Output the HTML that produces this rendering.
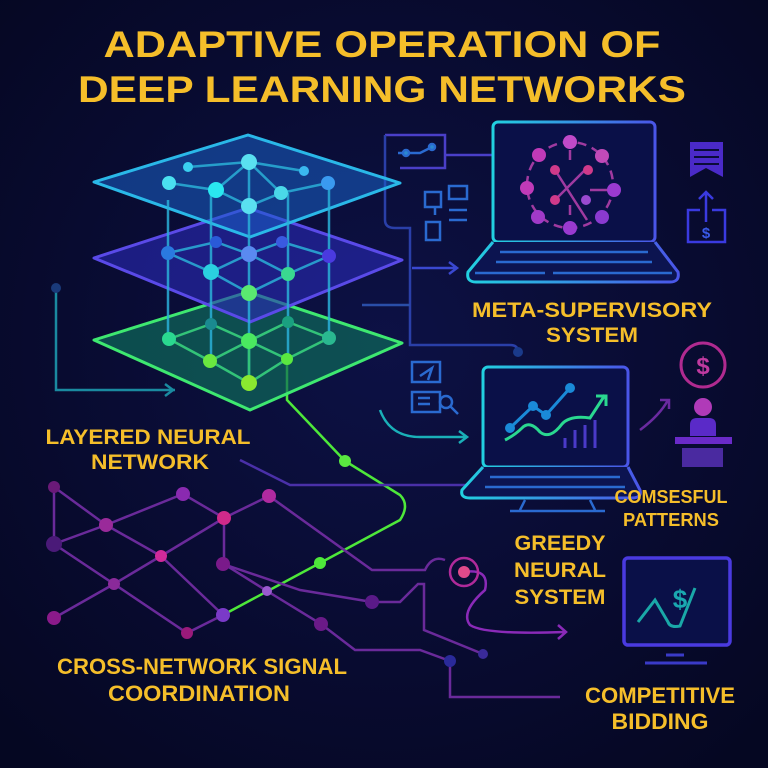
<!DOCTYPE html>
<html><head><meta charset="utf-8"><style>
html,body{margin:0;padding:0;background:#070a2a}
svg{display:block}
text{font-family:"Liberation Sans",sans-serif;font-weight:bold;fill:#f5be2a}
</style></head><body>
<svg width="768" height="768" viewBox="0 0 768 768" xmlns="http://www.w3.org/2000/svg">
<defs>
<radialGradient id="bg" cx="50%" cy="45%" r="70%"><stop offset="0" stop-color="#0d1145"/><stop offset="1" stop-color="#050722"/></radialGradient>
<linearGradient id="g1" x1="0" y1="0" x2="1" y2="1"><stop offset="0" stop-color="#1fa0d8"/><stop offset="1" stop-color="#3b55e0"/></linearGradient>
<linearGradient id="lp" x1="0" y1="0" x2="1" y2="0"><stop offset="0" stop-color="#22d0e0"/><stop offset="1" stop-color="#4a55e8"/></linearGradient>
</defs>
<rect width="768" height="768" fill="url(#bg)"/>
<text x="382" y="57" font-size="37" text-anchor="middle" textLength="557" lengthAdjust="spacingAndGlyphs">ADAPTIVE OPERATION OF</text>
<text x="382" y="102" font-size="37" text-anchor="middle" textLength="608" lengthAdjust="spacingAndGlyphs">DEEP LEARNING NETWORKS</text>

<!-- connectors left -->
<g fill="none" stroke-width="2.5">
<path d="M56 288 V390 H175" stroke="#1a8aa0"/>
<path d="M165 384 l8 6 l-8 6" stroke="#1a8aa0"/>
<path d="M287 357 V400 L345 461 L400 495 Q410 505 400 520 L320 563 L223 615" stroke="#4ee83a"/>
<path d="M385 135 H445 V168 H400 M445 155 H493" stroke="#4a3fc8"/>
<path d="M385 135 V220 Q385 228 395 228 H410 V345 H510 Q518 345 518 352" stroke="#2a3fa8"/>
<path d="M412 268 H455 M449 262 l8 6 l-8 6" stroke="#3a48d0"/>
<path d="M362 305 H410" stroke="#2a4ea8"/>
<path d="M380 410 Q390 437 420 437 H465 M459 431 l8 6 l-8 6" stroke="#1ab0b8"/>
<path d="M240 460 L290 485 H470" stroke="#4a30a8"/>
<path d="M640 430 Q660 415 668 400 M660 400 h9 v9" stroke="#6a2aa0"/>
</g>
<circle cx="518" cy="352" r="5" fill="#1a3a8a"/>
<circle cx="56" cy="288" r="5" fill="#1a3a7a"/>

<!-- bottom network -->
<g fill="none" stroke="#6a2a9a" stroke-width="2.5">
<path d="M54 487 L106 525 L183 494 L224 518 L269 496 L372 570 H425 Q432 555 445 560"/>
<path d="M54 487 V544 L106 525 M54 544 L114 584 L161 556 L106 525 M161 556 L224 518 V564 L267 591 L321 624 L355 650 H420 L450 661 V697 H560"/>
<path d="M161 556 L223 615 M54 618 L114 584 L187 633 L223 615 M223 564 L300 590 L372 602 H400 L418 584 H424 V630 L483 654"/>
<path d="M464 572 Q490 568 485 590 Q460 612 470 625 Q485 635 565 632 M558 625 l8 7 l-8 7" stroke="#8a2ab8"/>
<circle cx="464" cy="572" r="14" stroke="#b02a9a"/>
</g>
<g>
<circle cx="54" cy="487" r="6" fill="#6a1a78"/><circle cx="183" cy="494" r="7" fill="#8a2ab0"/><circle cx="269" cy="496" r="7" fill="#b02aa0"/>
<circle cx="106" cy="525" r="7" fill="#9a2a9a"/><circle cx="224" cy="518" r="7" fill="#d02a8a"/><circle cx="54" cy="544" r="8" fill="#4a1a78"/>
<circle cx="161" cy="556" r="6" fill="#d02a9a"/><circle cx="223" cy="564" r="7" fill="#7a1a8a"/><circle cx="114" cy="584" r="6" fill="#8a2a9a"/>
<circle cx="267" cy="591" r="5" fill="#9a5ad0"/><circle cx="320" cy="563" r="6" fill="#4ee83a"/><circle cx="345" cy="461" r="6" fill="#5ae840"/>
<circle cx="54" cy="618" r="7" fill="#8a1a8a"/><circle cx="187" cy="633" r="6" fill="#9a1a7a"/><circle cx="223" cy="615" r="7" fill="#7a3ac8"/>
<circle cx="321" cy="624" r="7" fill="#6a1a88"/><circle cx="372" cy="602" r="7" fill="#5a1a88"/><circle cx="464" cy="572" r="6" fill="#e04a8a"/>
<circle cx="450" cy="661" r="6" fill="#2a2a9a"/><circle cx="483" cy="654" r="5" fill="#3a2a9a"/>
</g>

<!-- layered network -->
<g stroke-width="3" stroke-linejoin="round">
<path d="M94 340 L248 292 L402 343 L250 410 Z" fill="#0e6a5a" fill-opacity="0.7" stroke="#3ee870"/>
<path d="M94 258 L248 208 L402 260 L250 322 Z" fill="#2a2ab8" fill-opacity="0.6" stroke="#5a4ae8"/>
<path d="M94 182 L248 135 L400 183 L250 237 Z" fill="#1a60c8" fill-opacity="0.55" stroke="#2ab8e8"/>
</g>
<g stroke="#2ab0d8" stroke-width="2.5" fill="none" opacity="0.85">
<path d="M168 200 V339 M211 190 V361 M249 206 V383 M288 193 V359 M329 183 V338"/>
<path d="M188 167 L249 162 L304 171 M169 183 L216 190 L249 162 L281 193 L328 183 M216 190 L249 206 L281 193 M249 162 V206"/>
<path d="M168 253 L216 242 L249 254 L282 242 L329 256 L288 274 L249 293 L211 272 L168 253 M211 272 L249 254 L288 274"/>
<path d="M169 339 L211 324 L249 341 L288 322 L329 338 L287 359 L249 383 L210 361 L169 339 M210 361 L249 341 L287 359 M249 341 V383" stroke="#3ad880"/>
</g>
<g>
<circle cx="188" cy="167" r="5" fill="#3ad0f0"/><circle cx="249" cy="162" r="8" fill="#5ae0f0"/><circle cx="304" cy="171" r="5" fill="#3ab8f0"/>
<circle cx="169" cy="183" r="7" fill="#4ae0f0"/><circle cx="216" cy="190" r="8" fill="#2ae8f0"/><circle cx="281" cy="193" r="7" fill="#4ad8e8"/>
<circle cx="328" cy="183" r="7" fill="#3a9af0"/><circle cx="249" cy="206" r="8" fill="#5ae0f0"/>
<circle cx="168" cy="253" r="7" fill="#2a7ae0"/><circle cx="216" cy="242" r="6" fill="#2a5ad8"/><circle cx="249" cy="254" r="8" fill="#5a8af0"/>
<circle cx="282" cy="242" r="6" fill="#3a5ae0"/><circle cx="329" cy="256" r="7" fill="#4a3ae0"/><circle cx="211" cy="272" r="8" fill="#2ad0e0"/>
<circle cx="288" cy="274" r="7" fill="#3ad890"/><circle cx="249" cy="293" r="8" fill="#5ae870"/>
<circle cx="169" cy="339" r="7" fill="#2ad890"/><circle cx="211" cy="324" r="6" fill="#1a8a90"/><circle cx="249" cy="341" r="8" fill="#4ae860"/>
<circle cx="288" cy="322" r="6" fill="#1aa080"/><circle cx="329" cy="338" r="7" fill="#2ab890"/><circle cx="210" cy="361" r="7" fill="#6ae840"/>
<circle cx="287" cy="359" r="6" fill="#5ae840"/><circle cx="249" cy="383" r="8" fill="#8ae830"/>
</g>

<!-- flow icons -->
<g fill="none" stroke="#2a6ad0" stroke-width="2.5">
<path d="M398 153 H420 L432 147"/><circle cx="406" cy="153" r="3" fill="#2a8ad0"/><circle cx="432" cy="147" r="3" fill="#2a8ad0"/>
<rect x="425" y="192" width="16" height="15"/><rect x="449" y="186" width="18" height="13"/><path d="M449 210 H467 M449 220 H467 M435 207 V215 M430 222 H440 V240 H426 V222 Z"/>
<rect x="412" y="362" width="28" height="20"/><path d="M420 376 L432 368 L428 380 M412 392 H440 V412 H412 Z M418 398 H430 M418 404 H430"/><circle cx="446" cy="402" r="6"/><path d="M450 406 L458 414"/>
</g>

<!-- laptop 1 -->
<rect x="493" y="122" width="162" height="120" rx="5" fill="#0a1048" stroke="url(#lp)" stroke-width="3"/>
<path d="M493 242 L468 272 Q466 282 476 282 H670 Q680 282 678 272 L655 242" fill="#0c1450" stroke="url(#lp)" stroke-width="3"/>
<path d="M500 252 H648 M496 262 H652 M475 273 H545 M553 273 H672" stroke="#2a6ad0" stroke-width="2.5"/>
<g fill="none" stroke="#a03aa0" stroke-width="2.5">
<circle cx="570" cy="185" r="43" stroke-dasharray="9 6"/>
<path d="M555 170 L587 220 M585 170 L555 200 M590 190 L615 190 M570 215 V205 M570 150 V160"/>
</g>
<g>
<circle cx="570" cy="142" r="7" fill="#c04ac8"/><circle cx="539" cy="155" r="7" fill="#c03ab8"/><circle cx="602" cy="156" r="7" fill="#c04ab8"/>
<circle cx="527" cy="188" r="7" fill="#c03ab8"/><circle cx="614" cy="190" r="7" fill="#9a3ad0"/><circle cx="538" cy="217" r="7" fill="#a03ac8"/>
<circle cx="602" cy="217" r="7" fill="#8a3ad0"/><circle cx="570" cy="228" r="7" fill="#9a3ad0"/><circle cx="555" cy="170" r="5" fill="#d03a8a"/>
<circle cx="588" cy="170" r="5" fill="#d03a8a"/><circle cx="555" cy="200" r="5" fill="#d03a8a"/><circle cx="586" cy="200" r="5" fill="#9a4ad0"/>
</g>
<path d="M690 142 H723 V177 L706 168 L690 177 Z" fill="#4a2ac8"/><path d="M694 150 H719 M694 157 H719 M694 164 H719" stroke="#0a0c38" stroke-width="2"/>
<g fill="none" stroke="#3a3ae0" stroke-width="2.5"><path d="M700 210 H688 V242 H725 V210 H712 M706 222 V192 M699 199 L706 192 L713 199"/></g>
<text x="706" y="238" font-size="15" text-anchor="middle" style="fill:#3a5ae8">$</text>

<text x="592" y="317" font-size="21" text-anchor="middle" textLength="240" lengthAdjust="spacingAndGlyphs">META-SUPERVISORY</text>
<text x="592" y="342" font-size="21" text-anchor="middle" textLength="92" lengthAdjust="spacingAndGlyphs">SYSTEM</text>

<!-- laptop 2 -->
<rect x="483" y="367" width="145" height="100" rx="5" fill="#0a1048" stroke="url(#lp)" stroke-width="3"/>
<path d="M483 467 L462 490 Q460 498 470 498 H632 Q642 498 640 490 L628 467" fill="#0c1450" stroke="url(#lp)" stroke-width="3"/>
<path d="M490 477 H620 M485 487 H625 M525 500 L520 510 M590 500 L595 510 M510 511 H605" stroke="#2a6ad0" stroke-width="2.5"/>
<path d="M510 428 L533 406 L546 415 L570 388" fill="none" stroke="#1a8ad8" stroke-width="3"/>
<circle cx="510" cy="428" r="5" fill="#1a8ad8"/><circle cx="533" cy="406" r="5" fill="#1a8ad8"/><circle cx="546" cy="415" r="5" fill="#1a8ad8"/><circle cx="570" cy="388" r="5" fill="#1a8ad8"/>
<path d="M505 440 Q515 435 522 428 Q530 420 540 432 Q550 440 562 424 Q570 415 590 418 L605 395 M596 396 h10 v10" fill="none" stroke="#2ad890" stroke-width="3"/>
<path d="M565 448 V438 M575 448 V430 M585 448 V425 M595 448 V420" stroke="#4a3ac8" stroke-width="3"/>

<circle cx="703" cy="365" r="22" fill="none" stroke="#b02a90" stroke-width="3"/>
<text x="703" y="374" font-size="24" text-anchor="middle" style="fill:#c03aa0">$</text>
<circle cx="703" cy="407" r="9" fill="#b03ab8"/>
<path d="M690 425 Q690 418 697 418 H709 Q716 418 716 425 V436 H690 Z" fill="#5a2ac8"/>
<rect x="675" y="437" width="57" height="7" fill="#6a2ac8"/>
<rect x="682" y="448" width="41" height="19" fill="#4a2aa0"/>

<text x="671" y="503" font-size="18" text-anchor="middle" textLength="113" lengthAdjust="spacingAndGlyphs">COMSESFUL</text>
<text x="671" y="526" font-size="18" text-anchor="middle" textLength="96" lengthAdjust="spacingAndGlyphs">PATTERNS</text>
<text x="560" y="550" font-size="21" text-anchor="middle" textLength="91" lengthAdjust="spacingAndGlyphs">GREEDY</text>
<text x="560" y="577" font-size="21" text-anchor="middle" textLength="92" lengthAdjust="spacingAndGlyphs">NEURAL</text>
<text x="560" y="604" font-size="21" text-anchor="middle" textLength="91" lengthAdjust="spacingAndGlyphs">SYSTEM</text>

<!-- bidding monitor -->
<rect x="624" y="558" width="106" height="87" rx="4" fill="#0a1048" stroke="#4a3ae0" stroke-width="3.5"/>
<path d="M666 655 H684 M645 663 H707" stroke="#3a3ac8" stroke-width="3"/>
<path d="M638 622 L655 600 L668 622 Q670 628 680 626 L695 588" fill="none" stroke="#1aa8a8" stroke-width="3"/>
<text x="680" y="608" font-size="26" text-anchor="middle" style="fill:#1aa8b0">$</text>

<text x="148" y="444" font-size="21" text-anchor="middle" textLength="205" lengthAdjust="spacingAndGlyphs">LAYERED NEURAL</text>
<text x="150" y="469" font-size="21" text-anchor="middle" textLength="118" lengthAdjust="spacingAndGlyphs">NETWORK</text>
<text x="202" y="674" font-size="22" text-anchor="middle" textLength="290" lengthAdjust="spacingAndGlyphs">CROSS-NETWORK SIGNAL</text>
<text x="199" y="701" font-size="22" text-anchor="middle" textLength="182" lengthAdjust="spacingAndGlyphs">COORDINATION</text>
<text x="660" y="703" font-size="22" text-anchor="middle" textLength="150" lengthAdjust="spacingAndGlyphs">COMPETITIVE</text>
<text x="660" y="729" font-size="22" text-anchor="middle" textLength="97" lengthAdjust="spacingAndGlyphs">BIDDING</text>
</svg>
</body></html>
